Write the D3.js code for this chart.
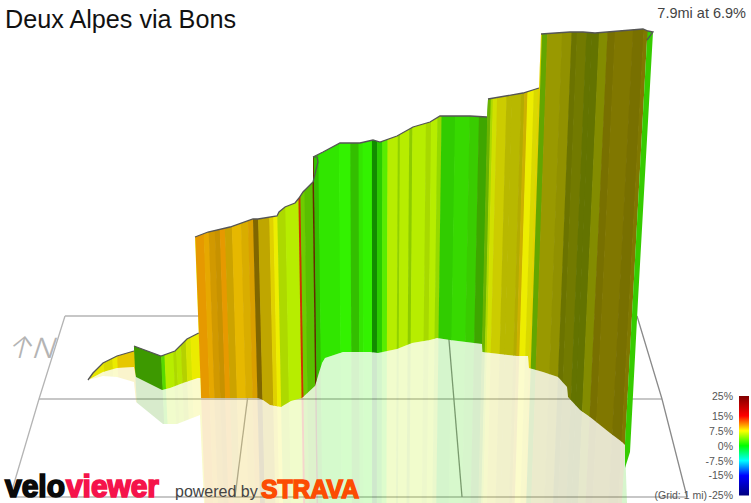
<!DOCTYPE html>
<html lang="en">
<head>
<meta charset="UTF-8">
<title>Deux Alpes via Bons</title>
<script src="https://d3js.org/d3.v7.min.js"></script>
<style>
  html, body { margin: 0; background: #fff; overflow: hidden; }
  svg { display: block; font-family: "Liberation Sans", Arial, sans-serif; }
</style>
</head>
<body>
<div id="chart"></div>
<script>
// ridge of the climb (along the view, height above the page foot)
const ridgeX = [88,93,103,117,134,134,161,175,187,198.7,195,208,230,253,258,277,279,285,295,299,303,313,313,323,340,360,373,380,397,413,430,440,460,470,487,488,523,539,541,570,583,595,607,643,648,653,647];
const ridgeH = [123,130,140,147,152,157,147,152,164,170,266,271,276,284,284,287,291,296,300,305,311,321,346,351,360,360,363,361,367,376,381,387,387,387,386,404,410,415,469,471,471,470,471,474,472,471,463];
const ridgeLifts = [5, 10, 22, 35, 38]; // steps in the wall, no outline there
const creaseX = [313,316,318,317,313];
const creaseH = [321,333,341,346,346];

// where the wall meets the floor
const baseX = [88,103,117,134,136,162,170,183,198,200.4,201,258,263,270,281,291,302,315,322,325,343,370,378,397,412,430,437,450,482,482.5,517,528,529,543,558,567,568,580,590,610,622,625];
const baseH = [123,131,135,136,126,113,115,120,125,125,105,105,103,98,96,102,105,117,140,145,151,151,150,154,160,163,165,163,159,151,147,147,135,131,126,116,106,93,86,70,61,58];

// lower edge of the floor reflection
const mirrorX = [627,204,200,177,163,136,134,117,103,88];
const mirrorH = [0,0,88,79,79,101,121,126,127,123];

// the far end of the ribbon
const endX = [647,653,638,630,625,625];
const endH = [463,471,203,51,35,60];
const endGrade = 2;
const endLight = 0.8;

// gradient bands along the route
const bandEdges = [85,100,109,114,131.5,158.5,162,171,174,179,184,189,197.5,206,211,217,222,227,234,243,250,255,260,271,275,279,287,300,302,306,314,315.5,320,340,351,359,363,372,377,382,387,397,399,408,411,424,429,435,439,452,466,475,483,486,488,492,501,506,515,518,521,527,531,533,538,552,561,566,575,580,587,595,602,619,629,633,640];
const bandGrades = [7.5,7.5,7.5,8.5,3,3,5.8,6,6,6.5,7,7.5,10,9.5,9.5,9.5,10,9,9,9,9.5,9,8.5,8,7.5,6,5.8,13,4,3.5,12,2,1.6,1.6,2,1.7,1.6,1,1.6,2.8,5.8,5.2,5.8,5.2,5.8,5.8,5.8,5.2,1.8,1.9,2.1,2.8,4.5,6,7,7.5,7.5,7.5,7.8,8.5,7.5,7.5,8,4.5,7.5,7.5,7,7,6.5,6.5,7,8,8,8,8,2];
const bandLights = [0.9,0.85,0.92,0.9,0.6,0.85,0.93,0.85,0.9,0.82,0.9,0.92,0.9,0.9,0.82,0.78,0.9,0.8,0.9,0.85,0.85,0.5,0.75,0.88,0.93,0.85,0.93,0.8,0.8,0.75,0.4,0.75,0.9,0.95,0.75,0.9,0.95,0.55,0.8,0.93,0.93,0.82,0.93,0.8,0.93,0.85,0.93,0.85,0.8,0.85,0.8,0.65,0.7,0.85,0.88,0.8,0.72,0.72,0.7,0.8,0.93,0.85,0.88,0.65,0.6,0.57,0.45,0.48,0.45,0.45,0.55,0.47,0.5,0.47,0.5,0.8];

// floor grid
const gridRowH = [187,104,6];
const gridRowLeft = [65,39,10];
const gridRowRight = [637,662,687];
const gridColBack = [258,447];
const gridColFront = [235,462];

// legend
const gradeTicks = [25,15,7.5,0,-7.5,-15,-25];
const gradeColors = ["#800000","#ff0000","#ffff00","#00ff00","#00ffff","#0000ff","#00007f"];

const width = 751;
const height = 503;
const refLine = 300; // band edges are read along this page height

const x = d3.scaleLinear().domain([0, width]).range([0, width]);
const y = d3.scaleLinear().domain([0, height]).range([height, 0]);
const gradeColor = d3.scaleLinear().domain(gradeTicks).range(gradeColors).clamp(true);
// perspective: the bands fan out going up the page
const lean = d3.scaleLinear().domain([198, 640]).range([-0.037, 0.056]);

const line = d3.line().x(d => x(d[0])).y(d => y(d[1]));
const area = d3.line().x(d => x(d[0])).y(d => y(d[1])).curve(d3.curveLinearClosed);
const ridge = d3.zip(ridgeX, ridgeH);
const base = d3.zip(baseX, baseH);
const mirror = d3.zip(mirrorX, mirrorH);

function shaded(grade, light) {
  const c = d3.rgb(gradeColor(grade));
  return d3.rgb(c.r * light, c.g * light, c.b * light).formatHex();
}

const svg = d3.select("#chart").append("svg")
  .attr("width", width)
  .attr("height", height);
const defs = svg.append("defs");

defs.append("clipPath").attr("id", "wallClip")
  .append("path").attr("d", area(ridge.concat(base.slice().reverse())));
defs.append("clipPath").attr("id", "mirrorClip")
  .append("path").attr("d", area(base.concat(mirror)));

function bandPath(x0, x1) {
  const yTop = y(height), yBottom = y(0);
  const at = (v, py) => v + (refLine - py) * lean(v);
  return `M${at(x(x0), yTop)},${yTop}L${at(x(x1) + 0.6, yTop)},${yTop}L${at(x(x1) + 0.6, yBottom)},${yBottom}L${at(x(x0), yBottom)},${yBottom}Z`;
}

function drawBands(clipId, opacity) {
  svg.append("g")
    .attr("clip-path", `url(#${clipId})`)
    .attr("opacity", opacity)
    .selectAll("path")
    .data(bandGrades)
    .join("path")
    .attr("d", (d, i) => bandPath(bandEdges[i], bandEdges[i + 1]))
    .attr("fill", (d, i) => shaded(d, bandLights[i]));
}

// grid sits under everything
const grid = svg.append("g").attr("fill", "none").attr("stroke-width", 1.3);
gridRowH.forEach((h, i) => {
  grid.append("path")
    .attr("d", line([[gridRowLeft[i], h], [gridRowRight[i], h]]))
    .attr("stroke", "#b4b4b4");
});
grid.append("path").attr("d", line(d3.zip(gridRowLeft, gridRowH))).attr("stroke", "#b4b4b4");
grid.append("path").attr("d", line(d3.zip(gridRowRight, gridRowH))).attr("stroke", "#8a8a8a");
gridColBack.forEach((c, i) => {
  grid.append("path")
    .attr("d", line([[c, gridRowH[0]], [gridColFront[i], gridRowH[2]]]))
    .attr("stroke", i === 0 ? "#aaaaaa" : "#8a8a8a");
});

drawBands("mirrorClip", 0.2);
drawBands("wallClip", 1);

svg.append("path")
  .attr("d", area(d3.zip(endX, endH)))
  .attr("fill", shaded(endGrade, endLight));

// ridge outline, lifted at the steps
d3.pairs([0, ...ridgeLifts, ridge.length]).forEach(([a, b]) => {
  svg.append("path")
    .attr("d", line(ridge.slice(a, b)))
    .attr("fill", "none")
    .attr("stroke", "#555")
    .attr("stroke-width", 1.3);
});
svg.append("path")
  .attr("d", line(d3.zip(creaseX, creaseH)))
  .attr("fill", "none")
  .attr("stroke", "#555")
  .attr("stroke-width", 1.2);

// titles
svg.append("text").attr("x", 5).attr("y", 28)
  .attr("font-size", 25.2).attr("fill", "#111")
  .text("Deux Alpes via Bons");
svg.append("text").attr("x", 746).attr("y", 18)
  .attr("text-anchor", "end").attr("font-size", 14.5).attr("fill", "#444")
  .text("7.9mi at 6.9%");

// north marker
svg.append("text")
  .attr("transform", "translate(7,358) skewX(-14)")
  .attr("font-family", "Inter")
  .attr("font-weight", 300)
  .attr("font-size", 30).attr("fill", "#b4b4b4")
  .text("↑");
svg.append("text")
  .attr("transform", "translate(31,358) skewX(-18) scale(1.05,1)")
  .attr("font-family", "Inter")
  .attr("font-weight", 300)
  .attr("font-size", 28).attr("fill", "#b4b4b4")
  .text("N");

// grade legend
const legendY = d3.scaleLinear().domain([-25, 25]).range([495.5, 396]);
const grad = defs.append("linearGradient").attr("id", "gradeRamp")
  .attr("x1", 0).attr("x2", 0).attr("y1", 0).attr("y2", 1);
gradeTicks.forEach((t, i) => {
  grad.append("stop").attr("offset", (25 - t) / 50).attr("stop-color", gradeColors[i]);
});
svg.append("rect")
  .attr("x", 739).attr("y", legendY(25))
  .attr("width", 10).attr("height", legendY(-25) - legendY(25))
  .attr("fill", "url(#gradeRamp)");

const legendAxis = d3.axisLeft(legendY)
  .tickValues(gradeTicks)
  .tickFormat(d => d + "%")
  .tickSize(0)
  .tickPadding(0);
const legendG = svg.append("g").attr("transform", "translate(733,0)").call(legendAxis);
legendG.select(".domain").remove();
legendG.selectAll("text")
  .attr("font-family", "Liberation Sans")
  .attr("font-size", 10.5)
  .attr("fill", "#555");

svg.append("text").attr("x", 707).attr("y", 498.5)
  .attr("text-anchor", "end").attr("font-size", 10.5).attr("fill", "#555")
  .text("(Grid: 1 mi)");

// brand marks
const brand = svg.append("g").attr("font-weight", "bold");
brand.append("text").attr("x", 5).attr("y", 496.5)
  .attr("font-size", 31).attr("fill", "#0a0a0a").attr("stroke", "#0a0a0a").attr("stroke-width", 1.7)
  .attr("textLength", 60).attr("lengthAdjust", "spacingAndGlyphs")
  .text("velo");
brand.append("text").attr("x", 66).attr("y", 496.5)
  .attr("font-size", 31).attr("fill", "#f5134b").attr("stroke", "#f5134b").attr("stroke-width", 1.7)
  .attr("textLength", 93).attr("lengthAdjust", "spacingAndGlyphs")
  .text("viewer");
svg.append("text").attr("x", 175).attr("y", 497)
  .attr("font-size", 16).attr("fill", "#444")
  .text("powered by");
brand.append("text").attr("x", 261).attr("y", 498)
  .attr("font-size", 25).attr("fill", "#fc4c02").attr("stroke", "#fc4c02").attr("stroke-width", 1.5)
  .attr("textLength", 98).attr("lengthAdjust", "spacingAndGlyphs")
  .text("STRAVA");
</script>
</body>
</html>
